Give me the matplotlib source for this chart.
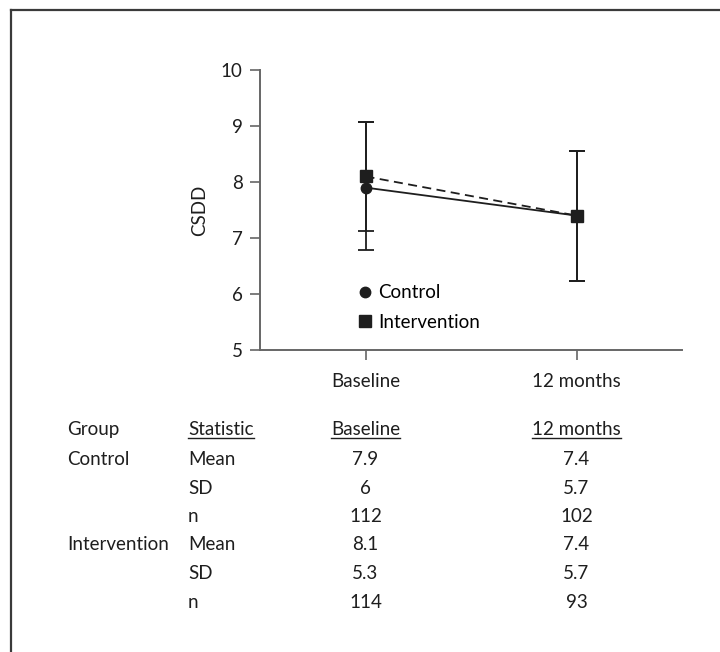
import matplotlib
matplotlib.use("Agg")
import matplotlib.pyplot as plt
from matplotlib.lines import Line2D
from matplotlib.transforms import blended_transform_factory

# ── Data ──────────────────────────────────────────────────────────────────────
timepoints = ["Baseline", "12 months"]
control_mean = [7.9, 7.4]
intervention_mean = [8.1, 7.4]
# error bar extents: [below mean, above mean]
control_err = [[1.12, 1.16], [1.17, 1.16]]
intervention_err = [[0.97, 1.16], [0.97, 1.16]]

table_groups = ["Control", "", "", "Intervention", "", ""]
table_stats = ["Mean", "SD", "n", "Mean", "SD", "n"]
table_baseline = ["7.9", "6", "112", "8.1", "5.3", "114"]
table_12m = ["7.4", "5.7", "102", "7.4", "5.7", "93"]

# ── Style ─────────────────────────────────────────────────────────────────────
plt.rcParams["font.family"] = ["Lato", "DejaVu Sans"]
FS = 13.5
INK = "#1e1e1e"
AXC = "#666666"
W, H = 720, 652

fig = plt.figure(figsize=(W / 100, H / 100), dpi=100)
ax = fig.add_axes([260 / W, 1 - 350 / H, 422 / W, 280 / H])

x = list(range(len(timepoints)))
ax.errorbar(x, control_mean, yerr=control_err, fmt="none", ecolor=INK,
            elinewidth=1.3, capsize=5.5, capthick=1.3, zorder=2)
ax.errorbar(x, intervention_mean, yerr=intervention_err, fmt="none", ecolor=INK,
            elinewidth=1.3, capsize=5.5, capthick=1.3, zorder=2)
ax.plot(x, control_mean, "-", color=INK, lw=1.3, marker="o", ms=7.5, zorder=3)
ax.plot(x, intervention_mean, color=INK, lw=1.3, ls=(0, (5, 3)),
        marker="s", ms=8, zorder=4)

ax.set_xlim(-0.5, 1.5)
ax.set_ylim(5, 10)
ax.set_xticks(x)
ax.set_xticklabels(timepoints)
ax.set_yticks([5, 6, 7, 8, 9, 10])
ax.set_ylabel("CSDD", fontsize=FS, color=INK, labelpad=9)

for side in ("top", "right"):
    ax.spines[side].set_visible(False)
for side in ("left", "bottom"):
    ax.spines[side].set_color(AXC)
    ax.spines[side].set_linewidth(1.4)
ax.tick_params(axis="both", colors=AXC, labelcolor=INK, labelsize=FS,
               width=1.2, length=7.5)
ax.tick_params(axis="x", pad=9)
ax.tick_params(axis="y", pad=5)

handles = [
    Line2D([], [], ls="none", marker="o", ms=7.5, color=INK, label="Control"),
    Line2D([], [], ls="none", marker="s", ms=8, color=INK, label="Intervention"),
]
ax.legend(handles=handles, loc="center left", bbox_to_anchor=(0.2334, 0.152),
          frameon=False, fontsize=FS, handlelength=0.7, handletextpad=0.35,
          labelspacing=0.65, borderpad=0, borderaxespad=0)

# ── Table under the chart ─────────────────────────────────────────────────────
def fy(px):
    return 1 - px / H

# numeric columns sit under the x ticks
col_trans = blended_transform_factory(ax.transData, fig.transFigure)

header_y = 435
row_y = [465, 493.5, 522, 550.5, 579, 607.5]
kw = dict(fontsize=FS, color=INK, va="baseline")

fig.text(67 / W, fy(header_y), "Group", ha="left", **kw)
underlined = [
    fig.text(188 / W, fy(header_y), "Statistic", ha="left", **kw),
    fig.text(x[0], fy(header_y), timepoints[0], ha="center",
             transform=col_trans, **kw),
    fig.text(x[1], fy(header_y), timepoints[1], ha="center",
             transform=col_trans, **kw),
]
for yy, g, s, b, m in zip(row_y, table_groups, table_stats, table_baseline, table_12m):
    fig.text(67 / W, fy(yy), g, ha="left", **kw)
    fig.text(188 / W, fy(yy), s, ha="left", **kw)
    fig.text(x[0], fy(yy), b, ha="center", transform=col_trans, **kw)
    fig.text(x[1], fy(yy), m, ha="center", transform=col_trans, **kw)

fig.canvas.draw()
renderer = fig.canvas.get_renderer()
for t in underlined:
    bb = t.get_window_extent(renderer)
    yline = fy(header_y + 2.5)
    fig.add_artist(Line2D([bb.x0 / W, bb.x1 / W], [yline, yline],
                          transform=fig.transFigure, color=INK, lw=1.0))

# Frame fragment along the top and left edge
fig.add_artist(Line2D([11 / W, 1], [fy(10), fy(10)], transform=fig.transFigure,
                      color="#3a3a3a", lw=1.6))
fig.add_artist(Line2D([11 / W, 11 / W], [0, fy(10)], transform=fig.transFigure,
                      color="#3a3a3a", lw=1.6))

fig.savefig("out.png", dpi=100)
